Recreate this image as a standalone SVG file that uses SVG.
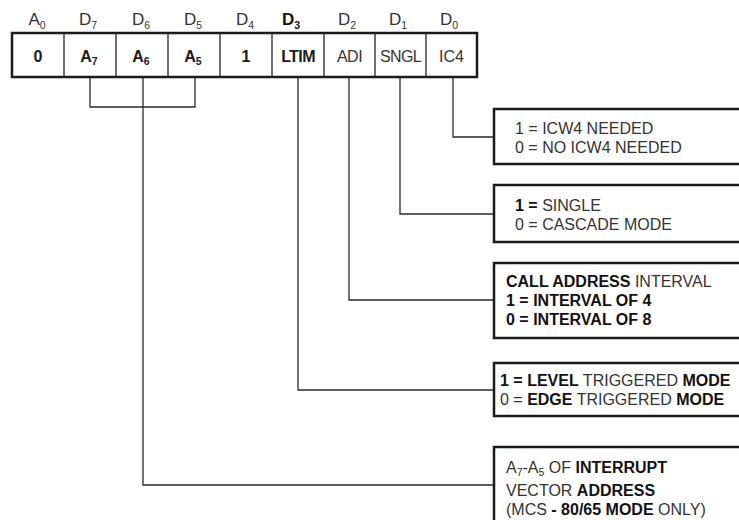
<svg xmlns="http://www.w3.org/2000/svg" width="739" height="520" viewBox="0 0 739 520">
<style>
text{font-family:"Liberation Sans",Arial,sans-serif;fill:#1a1a1a}
.hdr{font-size:17px;text-anchor:middle;fill:#333}
.sub{font-size:10.5px}
.cell{font-size:16px;font-weight:bold;text-anchor:middle}
.cellr{font-size:16px;text-anchor:middle;fill:#333}
.frame{fill:none;stroke:#1a1a1a;stroke-width:2.5}
.div{stroke:#222;stroke-width:1.3}
.box{fill:#fff;stroke:#1a1a1a;stroke-width:2.5}
.lbl{font-size:16px}
.b{font-weight:bold;fill:#111}
.r{fill:#333}
.conn{fill:none;stroke:#2a2a2a;stroke-width:1.3}
</style>
<g id="connectors">
<polyline class="conn" points="90,77 90,107 195,107 195,77"/>
<polyline class="conn" points="143,77 143,485 494,485"/>
<polyline class="conn" points="298,77 298,390 494,390"/>
<polyline class="conn" points="349,77 349,300 494,300"/>
<polyline class="conn" points="400,77 400,214 494,214"/>
<polyline class="conn" points="453,77 453,137 494,137"/>
</g>
<g id="register">
<text class="hdr" x="37" y="25">A<tspan class="sub" dy="4">0</tspan></text>
<text class="hdr" x="88" y="25">D<tspan class="sub" dy="4">7</tspan></text>
<text class="hdr" x="141" y="25">D<tspan class="sub" dy="4">6</tspan></text>
<text class="hdr" x="193" y="25">D<tspan class="sub" dy="4">5</tspan></text>
<text class="hdr" x="245" y="25">D<tspan class="sub" dy="4">4</tspan></text>
<text class="hdr" x="291" y="25" style="font-weight:bold;fill:#111">D<tspan class="sub" dy="4">3</tspan></text>
<text class="hdr" x="347" y="25">D<tspan class="sub" dy="4">2</tspan></text>
<text class="hdr" x="398" y="25">D<tspan class="sub" dy="4">1</tspan></text>
<text class="hdr" x="449" y="25">D<tspan class="sub" dy="4">0</tspan></text>
<rect class="frame" x="12" y="33" width="465" height="44"/>
<line class="div" x1="64" y1="33" x2="64" y2="77"/>
<line class="div" x1="116" y1="33" x2="116" y2="77"/>
<line class="div" x1="168" y1="33" x2="168" y2="77"/>
<line class="div" x1="220" y1="33" x2="220" y2="77"/>
<line class="div" x1="272" y1="33" x2="272" y2="77"/>
<line class="div" x1="324" y1="33" x2="324" y2="77"/>
<line class="div" x1="375" y1="33" x2="375" y2="77"/>
<line class="div" x1="426" y1="33" x2="426" y2="77"/>
<text class="cell" x="38" y="62">0</text>
<text class="cell" x="89" y="62">A<tspan class="sub" dy="3">7</tspan></text>
<text class="cell" x="141" y="62">A<tspan class="sub" dy="3">6</tspan></text>
<text class="cell" x="193" y="62">A<tspan class="sub" dy="3">5</tspan></text>
<text class="cell" x="246" y="62">1</text>
<text class="cell" x="298" y="62" style="letter-spacing:-0.6px">LTIM</text>
<text class="cellr" x="349.5" y="62" style="letter-spacing:-0.5px">ADI</text>
<text class="cellr" x="400.5" y="62" style="letter-spacing:-0.7px">SNGL</text>
<text class="cellr" x="451.5" y="62">IC4</text>
</g>
<g id="box-ic4">
<rect class="box" x="494" y="109" width="260" height="55"/>
<text class="lbl r" x="515" y="134">1 = ICW4 NEEDED</text>
<text class="lbl r" x="515" y="153">0 = NO ICW4 NEEDED</text>
</g>
<g id="box-sngl">
<rect class="box" x="494" y="185" width="260" height="57"/>
<text class="lbl" x="515" y="211"><tspan class="b">1 =</tspan><tspan class="r"> SINGLE</tspan></text>
<text class="lbl r" x="515" y="230">0 = CASCADE MODE</text>
</g>
<g id="box-adi">
<rect class="box" x="494" y="263" width="260" height="75"/>
<text class="lbl" x="506" y="287"><tspan class="b">CALL ADDRESS</tspan><tspan class="r"> INTERVAL</tspan></text>
<text class="lbl b" x="506" y="306">1 = INTERVAL OF 4</text>
<text class="lbl b" x="506" y="325">0 = INTERVAL OF 8</text>
</g>
<g id="box-ltim">
<rect class="box" x="494" y="363" width="260" height="53"/>
<text class="lbl" x="500" y="386"><tspan class="b">1 = LEVEL</tspan><tspan class="r"> TRIGGERED </tspan><tspan class="b">MODE</tspan></text>
<text class="lbl" x="500" y="405"><tspan class="r">0 = </tspan><tspan class="b">EDGE</tspan><tspan class="r"> TRIGGERED </tspan><tspan class="b">MODE</tspan></text>
</g>
<g id="box-vector">
<rect class="box" x="494" y="447" width="260" height="90"/>
<text class="lbl" x="506" y="473"><tspan class="r">A</tspan><tspan class="r sub" dy="3">7</tspan><tspan class="r" dy="-3">-A</tspan><tspan class="r sub" dy="3">5</tspan><tspan class="r" dy="-3"> OF </tspan><tspan class="b">INTERRUPT</tspan></text>
<text class="lbl" x="506" y="496"><tspan class="r">VECTOR </tspan><tspan class="b">ADDRESS</tspan></text>
<text class="lbl" x="506" y="515"><tspan class="r">(MCS </tspan><tspan class="b">- 80/65 MODE</tspan><tspan class="r"> ONLY)</tspan></text>
</g>
</svg>
